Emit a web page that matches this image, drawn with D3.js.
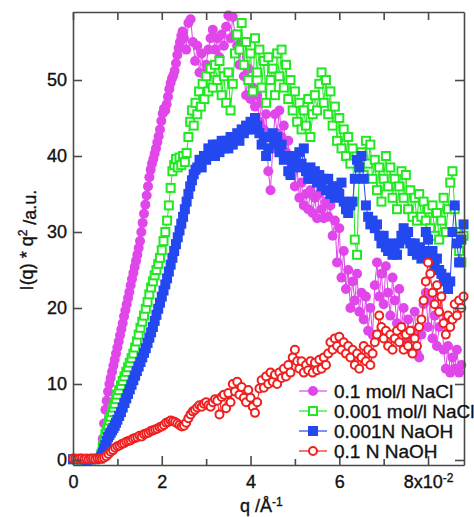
<!DOCTYPE html>
<html lang="en">

<head>
  <meta charset="UTF-8">
  <script src="https://d3js.org/d3.v7.min.js"></script>
  <style>
    body { margin: 0; background: #fff; }
    svg text { font-family: "Liberation Sans", Arial, Helvetica, sans-serif; fill: #111; stroke: #111; stroke-width: 0.35px; }
  </style>
</head>

<body>
  <svg id="chart" width="474" height="517"></svg>

  <script>
    // q in units of 1e-2 1/A, intensity in a.u.
    const naclHigh = [
      [0.00,0.1],[0.05,0.1],[0.10,0.0],[0.15,0.1],[0.20,0.1],[0.25,0.0],[0.30,0.1],[0.35,0.1],[0.40,0.0],[0.45,0.1],[0.50,0.1],[0.55,0.1],[0.60,0.2],
      [0.64,0.8],[0.67,2.8],[0.70,4.8],[0.73,6.6],[0.76,7.8],[0.79,9.0],[0.82,10.0],[0.85,10.8],[0.88,11.6],[0.91,12.4],[0.94,13.2],[0.97,14.0],
      [1.00,14.8],[1.03,15.6],[1.06,16.4],[1.09,17.2],[1.12,18.0],[1.15,18.9],[1.18,19.7],[1.21,20.5],[1.24,21.3],[1.27,22.1],[1.30,23.0],[1.33,23.8],
      [1.36,24.6],[1.39,25.4],[1.42,26.2],[1.45,27.0],[1.48,27.9],[1.51,28.8],[1.54,30.0],[1.57,31.2],[1.60,32.4],[1.63,33.6],[1.66,34.8],[1.69,36.0],
      [1.72,37.2],[1.75,38.2],[1.78,39.0],[1.81,39.6],[1.84,40.3],[1.87,41.0],[1.90,41.8],[1.93,42.6],[1.96,43.5],[1.99,44.6],[2.02,45.6],[2.05,46.2],
      [2.08,46.0],[2.11,46.8],[2.14,47.8],[2.17,48.8],[2.20,49.6],[2.23,50.2],[2.26,50.6],[2.29,51.2],[2.32,52.2],[2.35,53.3],[2.38,54.2],[2.41,55.0],
      [2.44,55.8],[2.47,56.4],[2.50,55.5],[2.55,54.0],[2.60,57.5],[2.65,58.0],[2.70,55.0],[2.75,52.5],[2.80,54.5],[2.85,51.0],[2.90,53.5],[2.95,50.8],
      [3.00,52.0],[3.05,54.0],[3.10,55.5],[3.15,56.6],[3.20,54.0],[3.25,55.5],[3.30,53.0],[3.35,56.0],[3.40,54.5],[3.45,57.0],[3.50,58.5],[3.55,55.5],
      [3.60,58.3],[3.65,56.0],[3.70,54.5],[3.75,52.0],[3.80,55.0],[3.85,50.5],[3.90,48.0],[3.95,51.5],[4.00,47.5],[4.05,49.0],[4.10,46.5],[4.15,48.0],
      [4.20,44.5],[4.25,47.0],[4.30,43.5],[4.35,45.5],[4.40,38.0],[4.45,35.5],[4.50,41.0],[4.55,45.5],[4.60,43.0],[4.65,46.0],[4.70,42.5],[4.75,44.0],
      [4.80,40.5],[4.85,42.0],[4.90,37.5],[4.95,39.5],[5.00,36.0],[5.05,38.5],[5.10,34.5],[5.15,36.5],[5.20,33.5],[5.25,35.0],[5.30,33.0],[5.35,35.5],
      [5.40,32.5],[5.45,34.5],[5.50,31.8],[5.55,35.0],[5.60,33.0],[5.65,31.8],[5.70,34.0],[5.75,32.0],[5.80,33.5],[5.85,29.5],[5.90,31.5],[5.95,26.0],
      [6.00,30.5],[6.05,24.0],[6.10,27.5],[6.15,22.5],[6.20,25.0],[6.25,20.0],[6.30,23.5],[6.35,21.0],[6.40,24.5],[6.45,19.5],[6.50,22.0],[6.55,18.5],
      [6.60,21.5],[6.65,17.0],[6.70,20.0],[6.75,16.5],[6.80,23.0],[6.85,26.0],[6.90,21.5],[6.95,24.5],[7.00,20.5],[7.05,25.5],[7.10,22.0],[7.15,19.0],
      [7.20,24.0],[7.25,21.0],[7.30,18.0],[7.35,22.5],[7.40,17.5],[7.45,20.0],[7.50,15.5],[7.55,18.5],[7.60,14.5],[7.65,17.0],[7.70,19.5],[7.75,14.0],
      [7.80,13.5],[7.85,16.5],[7.90,20.5],[7.95,22.0],[8.00,17.5],[8.05,21.0],[8.10,16.0],[8.15,19.0],[8.20,15.0],[8.25,17.5],[8.30,21.5],[8.35,14.5],
      [8.40,12.0],[8.45,15.0],[8.50,11.5],[8.55,13.5],[8.60,12.0],[8.65,14.5],[8.70,11.5],[8.75,12.5]
    ];

    const naclLow = [
      [0.00,0.1],[0.10,0.1],[0.20,0.0],[0.30,0.1],[0.40,0.1],[0.50,0.1],[0.60,0.2],
      [0.64,0.8],[0.67,1.8],[0.70,2.6],[0.73,3.4],[0.76,4.0],[0.79,4.6],[0.82,5.2],[0.85,5.7],[0.88,6.3],[0.91,6.9],[0.94,7.4],[0.97,8.0],
      [1.00,8.6],[1.04,9.2],[1.08,9.8],[1.12,10.4],[1.16,11.0],[1.20,11.6],[1.24,12.2],[1.28,12.8],[1.32,13.4],[1.36,14.0],[1.40,14.8],[1.44,15.6],
      [1.48,16.5],[1.52,17.4],[1.56,18.2],[1.60,19.0],[1.64,19.9],[1.68,20.8],[1.72,21.8],[1.76,22.7],[1.80,23.5],[1.84,24.3],[1.88,25.0],[1.92,25.8],
      [1.96,26.6],[2.00,27.6],[2.04,28.8],[2.08,30.0],[2.12,31.5],[2.16,33.5],[2.20,35.8],[2.24,38.0],[2.28,38.8],[2.32,39.6],[2.36,38.5],[2.40,39.8],
      [2.44,38.8],[2.48,40.0],[2.52,39.2],[2.56,40.4],[2.60,42.5],[2.64,44.5],[2.68,46.0],[2.72,44.0],[2.76,47.0],[2.80,45.5],[2.84,48.5],[2.88,46.5],
      [2.92,49.5],[2.96,47.5],[3.00,50.5],[3.05,48.5],[3.10,51.5],[3.15,49.0],[3.20,52.0],[3.25,50.0],[3.30,52.5],[3.35,48.0],[3.40,50.5],[3.45,47.0],
      [3.50,51.0],[3.55,46.0],[3.60,49.5],[3.65,53.5],[3.70,56.0],[3.75,54.0],[3.80,57.5],[3.85,52.0],[3.90,55.0],[3.95,50.0],[4.00,53.5],[4.05,48.5],
      [4.10,55.5],[4.15,51.0],[4.20,54.0],[4.25,49.0],[4.30,52.5],[4.35,47.0],[4.40,53.0],[4.45,50.0],[4.50,51.5],[4.55,48.0],[4.60,53.5],[4.65,50.5],
      [4.70,54.0],[4.75,49.0],[4.80,52.0],[4.85,47.5],[4.90,50.0],[4.95,46.0],[5.00,48.5],[5.05,44.5],[5.10,47.0],[5.15,43.5],[5.20,46.0],[5.25,44.0],
      [5.30,47.5],[5.35,42.5],[5.40,45.5],[5.45,48.0],[5.50,46.0],[5.55,49.5],[5.60,51.0],[5.65,47.0],[5.70,50.0],[5.75,45.5],[5.80,48.5],[5.85,44.0],
      [5.90,46.5],[5.95,42.0],[6.00,45.0],[6.05,41.0],[6.10,43.5],[6.15,40.0],[6.20,42.5],[6.25,39.0],[6.30,41.0],[6.35,29.0],[6.40,27.0],[6.45,38.5],
      [6.50,40.5],[6.55,37.5],[6.60,42.0],[6.65,39.0],[6.70,41.5],[6.75,37.0],[6.80,39.5],[6.85,35.5],[6.90,38.5],[6.95,34.0],[7.00,37.0],[7.05,40.0],
      [7.10,36.0],[7.15,38.5],[7.20,34.5],[7.25,37.0],[7.30,33.0],[7.35,36.0],[7.40,38.0],[7.45,34.5],[7.50,37.5],[7.55,33.0],[7.60,35.5],[7.65,32.0],
      [7.70,34.5],[7.75,31.5],[7.80,35.0],[7.85,32.0],[7.90,34.0],[7.95,31.5],[8.00,33.0],[8.05,30.5],[8.10,33.5],[8.15,29.5],[8.20,32.5],[8.25,29.0],
      [8.30,31.5],[8.35,34.5],[8.40,30.0],[8.45,33.0],[8.50,36.5],[8.55,38.0],[8.60,33.0],[8.65,30.0],[8.70,27.5],[8.75,26.0],[8.80,29.5]
    ];

    const naohLow = [
      [0.00,0.1],[0.10,0.1],[0.20,0.1],[0.30,0.0],[0.40,0.1],[0.50,0.1],[0.60,0.2],
      [0.64,0.5],[0.67,1.0],[0.70,1.5],[0.73,2.0],[0.76,2.5],[0.79,3.0],[0.82,3.3],[0.85,3.6],[0.88,3.9],[0.91,4.2],[0.94,4.5],[0.97,4.9],
      [1.00,5.3],[1.04,5.8],[1.08,6.3],[1.12,6.9],[1.16,7.5],[1.20,8.1],[1.24,8.7],[1.28,9.3],[1.32,9.9],[1.36,10.5],[1.40,11.1],[1.44,11.7],
      [1.48,12.3],[1.52,12.9],[1.56,13.5],[1.60,14.1],[1.64,14.7],[1.68,15.4],[1.72,16.1],[1.76,16.8],[1.80,17.5],[1.84,18.3],[1.88,19.1],[1.92,19.9],
      [1.96,20.7],[2.00,21.5],[2.04,22.3],[2.08,23.1],[2.12,23.9],[2.16,24.8],[2.20,25.7],[2.24,26.6],[2.28,27.5],[2.32,28.4],[2.36,29.3],[2.40,30.2],
      [2.44,31.1],[2.48,32.0],[2.52,33.0],[2.56,34.0],[2.60,35.0],[2.64,36.0],[2.68,36.8],[2.72,37.6],[2.76,38.2],[2.80,38.5],[2.85,39.5],[2.90,38.5],
      [2.95,40.0],[3.00,39.5],[3.05,41.0],[3.10,40.5],[3.15,41.5],[3.20,40.0],[3.25,41.5],[3.30,40.5],[3.35,42.0],[3.40,41.0],[3.45,42.0],[3.50,41.0],
      [3.55,42.5],[3.60,41.5],[3.65,42.5],[3.70,43.0],[3.75,42.0],[3.80,43.5],[3.85,43.0],[3.90,44.0],[3.95,43.5],[4.00,44.5],[4.05,43.5],[4.10,45.0],
      [4.15,44.0],[4.20,43.0],[4.25,41.5],[4.30,42.5],[4.35,40.0],[4.40,41.0],[4.45,42.5],[4.50,43.0],[4.55,41.5],[4.60,42.5],[4.65,40.5],[4.70,41.5],
      [4.75,39.5],[4.80,40.0],[4.85,38.0],[4.90,37.5],[4.95,39.0],[5.00,40.0],[5.05,38.5],[5.10,40.5],[5.15,39.0],[5.20,41.0],[5.25,38.0],[5.30,37.0],
      [5.35,38.5],[5.40,37.0],[5.45,38.0],[5.50,36.5],[5.55,37.5],[5.60,36.0],[5.65,37.0],[5.70,35.5],[5.75,37.0],[5.80,35.0],[5.85,36.0],[5.90,34.5],
      [5.95,36.0],[6.00,35.0],[6.05,36.5],[6.10,34.0],[6.15,33.0],[6.20,32.5],[6.25,33.5],[6.30,34.0],[6.35,37.0],[6.40,39.5],[6.45,38.5],[6.50,40.0],
      [6.55,37.0],[6.60,33.5],[6.65,32.0],[6.70,31.0],[6.75,31.5],[6.80,30.5],[6.85,31.0],[6.90,29.5],[6.95,28.5],[7.00,29.5],[7.05,28.0],[7.10,27.5],
      [7.15,28.5],[7.20,27.0],[7.25,28.0],[7.30,27.0],[7.35,28.5],[7.40,29.5],[7.45,30.5],[7.50,29.0],[7.55,30.0],[7.60,28.5],[7.65,27.5],[7.70,28.5],
      [7.75,27.0],[7.80,28.0],[7.85,26.5],[7.90,27.5],[7.95,30.0],[8.00,29.0],[8.05,26.5],[8.10,27.5],[8.15,25.5],[8.20,26.5],[8.25,25.0],[8.30,24.5],
      [8.35,23.5],[8.40,24.0],[8.45,22.5],[8.50,23.5],[8.55,30.0],[8.60,33.5],[8.65,28.5],[8.70,26.0],[8.75,29.0],[8.80,31.0]
    ];

    const naohHigh = [
      [0.00,0.2],[0.05,0.2],[0.10,0.1],[0.15,0.2],[0.20,0.2],[0.25,0.1],[0.30,0.2],[0.35,0.1],[0.40,0.2],[0.45,0.2],[0.50,0.1],[0.55,0.2],[0.60,0.2],
      [0.65,0.2],[0.70,0.3],[0.75,0.5],[0.80,0.8],[0.85,1.1],[0.90,1.3],[0.95,1.6],[1.00,1.8],[1.05,1.9],[1.10,2.1],[1.15,2.2],[1.20,2.4],[1.25,2.5],
      [1.30,2.6],[1.35,2.8],[1.40,2.9],[1.45,3.0],[1.50,3.2],[1.55,3.1],[1.60,3.4],[1.65,3.5],[1.70,3.6],[1.75,3.8],[1.80,3.9],[1.85,4.0],[1.90,4.1],
      [1.95,4.3],[2.00,4.4],[2.05,4.6],[2.10,4.9],[2.15,5.0],[2.20,5.2],[2.25,5.1],[2.30,5.0],[2.35,4.8],[2.40,4.6],[2.45,4.4],[2.50,4.5],[2.55,4.9],
      [2.60,5.5],[2.65,6.0],[2.70,6.4],[2.75,6.6],[2.80,6.9],[2.85,7.2],[2.90,7.0],[2.95,7.4],[3.00,7.6],[3.05,7.2],[3.10,7.0],[3.15,7.6],[3.20,8.0],
      [3.25,7.8],[3.30,6.0],[3.35,8.3],[3.40,8.6],[3.45,6.8],[3.50,8.8],[3.55,7.6],[3.60,10.0],[3.65,9.0],[3.70,10.3],[3.75,8.6],[3.80,9.6],[3.85,8.2],
      [3.90,7.6],[3.95,9.2],[4.00,8.2],[4.05,7.0],[4.10,6.2],[4.15,7.6],[4.20,9.4],[4.25,10.5],[4.30,9.5],[4.35,11.0],[4.40,10.0],[4.45,11.5],[4.50,10.3],
      [4.55,11.2],[4.60,10.0],[4.65,11.5],[4.70,10.8],[4.75,12.0],[4.80,11.0],[4.85,12.5],[4.90,11.5],[4.95,13.5],[5.00,14.5],[5.05,13.0],[5.10,12.0],
      [5.15,13.0],[5.20,11.5],[5.25,12.5],[5.30,11.8],[5.35,13.0],[5.40,11.5],[5.45,12.8],[5.50,11.8],[5.55,13.2],[5.60,12.0],[5.65,13.5],[5.70,12.5],
      [5.75,14.0],[5.80,15.5],[5.85,14.5],[5.90,16.0],[5.95,15.0],[6.00,16.2],[6.05,14.5],[6.10,15.5],[6.15,14.0],[6.20,15.0],[6.25,13.5],[6.30,14.5],
      [6.35,12.5],[6.40,14.0],[6.45,12.0],[6.50,13.5],[6.55,15.0],[6.60,13.0],[6.65,14.5],[6.70,12.5],[6.75,14.0],[6.80,15.5],[6.85,16.5],[6.90,19.0],
      [6.95,17.5],[7.00,16.0],[7.05,17.0],[7.10,15.0],[7.15,16.5],[7.20,14.5],[7.25,16.0],[7.30,17.0],[7.35,15.5],[7.40,17.5],[7.45,14.5],[7.50,16.5],
      [7.55,15.0],[7.60,17.0],[7.65,14.0],[7.70,16.0],[7.75,15.0],[7.80,17.5],[7.85,18.5],[7.90,21.0],[7.95,23.5],[8.00,26.0],[8.05,24.5],[8.10,22.0],
      [8.15,20.5],[8.20,23.0],[8.25,19.5],[8.30,21.5],[8.35,18.0],[8.40,16.5],[8.45,19.0],[8.50,17.5],[8.55,18.5],[8.60,20.5],[8.65,19.0],[8.70,21.0],
      [8.75,20.0],[8.80,21.5]
    ];

    const seriesNames = ["0.1 mol/l NaCl", "0.001 mol/l NaCl", "0.001N NaOH", "0.1 N NaOH"];
    const xTicks = [0, 1, 2, 3, 4, 5, 6, 7, 8];
    const yTicks = [0, 10, 20, 30, 40, 50];

    const series = [
      { name: seriesNames[0], data: naclHigh, color: "#e046ea", shape: "circle", filled: true },
      { name: seriesNames[1], data: naclLow, color: "#22e822", shape: "square", filled: false },
      { name: seriesNames[2], data: naohLow, color: "#2448f0", shape: "square", filled: true },
      { name: seriesNames[3], data: naohHigh, color: "#ee2020", shape: "circle", filled: false }
    ];

    const svg = d3.select("#chart");
    const axisColor = "#4a4a4a";

    const x = d3.scaleLinear().domain([0, 8.81]).range([73, 464]);
    const y = d3.scaleLinear().domain([-0.66, 58.95]).range([465, 12]);

    // one marker (circle or square) appended to sel at (cx, cy)
    function addMarker(sel, s, cx, cy) {
      if (s.shape === "circle") {
        sel.append("circle").attr("cx", cx).attr("cy", cy)
          .attr("r", s.filled ? 5 : 4)
          .attr("fill", s.filled ? s.color : "#fff")
          .attr("stroke", s.color).attr("stroke-width", s.filled ? 0 : 2);
      } else {
        const a = s.filled ? 10 : 8;
        sel.append("rect").attr("x", cx - a / 2).attr("y", cy - a / 2)
          .attr("width", a).attr("height", a)
          .attr("fill", s.filled ? s.color : "#fff")
          .attr("stroke", s.color).attr("stroke-width", s.filled ? 0 : 2);
      }
    }

    const line = d3.line().x(d => x(d[0])).y(d => y(d[1]));

    series.forEach(s => {
      const g = svg.append("g");
      g.append("path")
        .attr("d", line(s.data))
        .attr("fill", "none")
        .attr("stroke", s.color)
        .attr("stroke-width", 1);
      s.data.forEach(d => addMarker(g, s, x(d[0]), y(d[1])));
    });

    // frame + axes
    const axisB = svg.append("g").attr("transform", "translate(0,465)")
      .call(d3.axisBottom(x).tickValues(xTicks).tickSizeInner(-9).tickSizeOuter(0).tickPadding(10)
        .tickFormat(d => d % 2 === 0 ? d : ""));
    const axisT = svg.append("g").attr("transform", "translate(0,12)")
      .call(d3.axisTop(x).tickValues(xTicks).tickSizeInner(-8).tickSizeOuter(0).tickFormat(""));
    const axisL = svg.append("g").attr("transform", "translate(73,0)")
      .call(d3.axisLeft(y).tickValues(yTicks).tickSizeInner(-9).tickSizeOuter(0).tickPadding(6));
    const axisR = svg.append("g").attr("transform", "translate(464,0)")
      .call(d3.axisRight(y).tickValues(yTicks).tickSizeInner(-9).tickSizeOuter(0).tickFormat(""));

    axisB.selectAll(".tick line").filter(d => d % 2 === 1).attr("y2", -6);

    [axisB, axisT, axisL, axisR].forEach(a => {
      a.select(".domain").attr("stroke", axisColor).attr("stroke-width", 1.6);
      a.selectAll(".tick line").attr("stroke", axisColor).attr("stroke-width", 1.6);
      a.selectAll(".tick text").attr("font-size", 18).attr("fill", "#111")
        .attr("font-family", "'Liberation Sans', Arial, sans-serif");
    });

    // 8x10^-2 label
    const t8 = axisB.selectAll(".tick").filter(d => d === 8).select("text");
    t8.text("");
    t8.append("tspan").text("8x10");
    t8.append("tspan").attr("dy", "-0.45em").attr("font-size", 12).text("-2");

    // axis titles
    const yl = svg.append("text")
      .attr("transform", "translate(33,240) rotate(-90)")
      .attr("text-anchor", "middle")
      .attr("font-size", 18);
    yl.append("tspan").text("I(q) * q");
    yl.append("tspan").attr("dy", "-0.5em").attr("font-size", 12).text("2");
    yl.append("tspan").attr("dy", "0.5em").text(" /a.u.");

    const xl = svg.append("text")
      .attr("x", 240).attr("y", 512)
      .attr("font-size", 18);
    xl.append("tspan").text("q /Å");
    xl.append("tspan").attr("dy", "-0.5em").attr("font-size", 12).text("-1");

    // legend
    const legend = svg.append("g").attr("transform", "translate(299,391)");
    series.forEach((s, i) => {
      const row = legend.append("g").attr("transform", "translate(0," + (i * 20) + ")");
      row.append("line").attr("x1", 0).attr("x2", 28).attr("y1", 0).attr("y2", 0)
        .attr("stroke", s.color).attr("stroke-width", 1.2);
      addMarker(row, s, 14, 0);
      row.append("text").attr("x", 35).attr("y", 0).attr("dy", "0.36em")
        .attr("font-size", 19).text(s.name);
    });
  </script>
</body>

</html>
